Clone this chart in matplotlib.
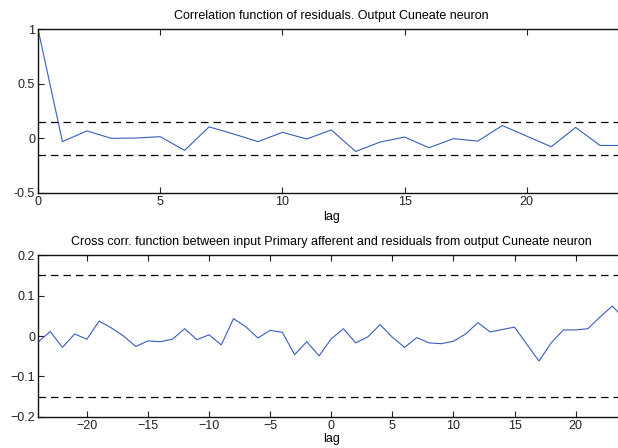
import matplotlib
matplotlib.use('Agg')
import matplotlib.pyplot as plt
import numpy as np

plt.rcParams['font.family'] = ['Liberation Sans', 'DejaVu Sans']

# autocorrelation of residuals, lags 0..24
lags_auto = list(range(0, 25))
corr_auto = [1.0, -0.03, 0.068, 0.0, 0.003, 0.015, -0.11, 0.105, 0.04, -0.03,
             0.055, -0.006, 0.077, -0.12, -0.034, 0.012, -0.086, -0.003, -0.025,
             0.117, 0.02, -0.077, 0.10, -0.065, -0.065]

# cross correlation input / residuals, lags -24..24
lags_cross = list(range(-24, 25))
corr_cross = [-0.015, 0.011, -0.028, 0.005, -0.008, 0.037, 0.020, 0.0, -0.026,
              -0.012, -0.014, -0.008, 0.018, -0.009, 0.003, -0.022, 0.043, 0.023,
              -0.005, 0.014, 0.009, -0.046, -0.014, -0.049, -0.007, 0.018, -0.017,
              -0.002, 0.028, -0.003, -0.028, -0.004, -0.017, -0.019, -0.013, 0.005,
              0.033, 0.010, 0.016, 0.022, -0.020, -0.062, -0.017, 0.015, 0.015,
              0.018, 0.047, 0.074, 0.043]

conf = 0.15
line_col = '#3a5cc0'
fs = 9


def style_axes(ax):
    ax.tick_params(direction='in', length=4, width=0.8, top=True, right=False,
                   labelsize=fs, colors='#222222', pad=2)
    for s in ['top', 'bottom', 'left']:
        ax.spines[s].set_linewidth(1.0)
        ax.spines[s].set_color('#111111')
    ax.spines['right'].set_visible(False)


fig = plt.figure(figsize=(6.18, 4.48), dpi=100)

ax1 = fig.add_axes([0.0615, 0.5692, 0.949, 0.366])
ax1.plot(lags_auto, corr_auto, color=line_col, lw=0.8)
ax1.axhline(conf, color='k', ls=(0, (6, 4)), lw=0.9)
ax1.axhline(-conf, color='k', ls=(0, (6, 4)), lw=0.9)
ax1.set_xlim(0, 24)
ax1.set_ylim(-0.5, 1)
ax1.set_xticks([0, 5, 10, 15, 20])
ax1.set_yticks([-0.5, 0, 0.5, 1])
ax1.set_yticklabels(['-0.5', '0', '0.5', '1'])
ax1.set_xlabel('lag', fontsize=fs, labelpad=2)
ax1.set_title('Correlation function of residuals. Output Cuneate neuron', fontsize=fs, pad=7)
style_axes(ax1)

ax2 = fig.add_axes([0.0615, 0.0692, 0.949, 0.3616])
ax2.plot(lags_cross, corr_cross, color=line_col, lw=0.8)
ax2.axhline(conf, color='k', ls=(0, (6, 4)), lw=0.9)
ax2.axhline(-conf, color='k', ls=(0, (6, 4)), lw=0.9)
ax2.set_xlim(-24, 24)
ax2.set_ylim(-0.2, 0.2)
ax2.set_xticks([-20, -15, -10, -5, 0, 5, 10, 15, 20])
ax2.set_yticks([-0.2, -0.1, 0, 0.1, 0.2])
ax2.set_yticklabels(['\u22120.2', '\u22120.1', '0', '0.1', '0.2'])
ax2.set_xlabel('lag', fontsize=fs, labelpad=1)
ax2.set_title('Cross corr. function between input Primary afferent and residuals from output Cuneate neuron',
              fontsize=fs, pad=7)
style_axes(ax2)

fig.savefig('out.png', dpi=100)
